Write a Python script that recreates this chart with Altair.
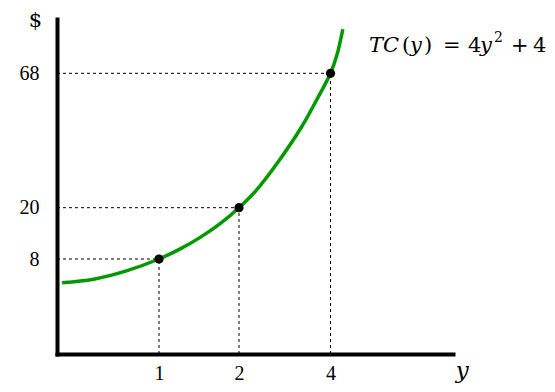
import altair as alt
import pandas as pd

# ---- data ----
qty = [1, 2, 4]
cost = [8, 20, 68]
curve_q = [0.05, 0.36, 0.68, 1.0, 1.26, 1.51, 1.76, 2.0, 2.35, 2.87, 3.37, 3.75, 4.0, 4.14, 4.27]
curve_c = [6.0, 6.3, 7.0, 8.0, 10.3, 13.0, 16.2, 20.0, 25.7, 36.7, 48.9, 60.1, 68.0, 74.5, 83.8]
x_ticks = [1, 2, 4]
y_ticks = [8, 20, 68]
formula_parts = ["TC", "(", "y", ")", "=", "4", "y", "2", "+", "4"]

pts = pd.DataFrame({"q": qty, "c": cost, "zero": [0] * len(qty)})
curve = pd.DataFrame({"q": curve_q, "c": curve_c})

F_FORM = "DejaVu Serif"
F_LAB = "Liberation Serif"
F_TIT = "DejaVu Serif"
GREEN = "#009900"

# schematic (piecewise linear) scales, as in the drawing
xscale = alt.Scale(domain=[0, 1, 2, 4, 6.68], range=[0, 102, 182, 273.5, 396], nice=False, zero=False)
yscale = alt.Scale(domain=[0, 8, 20, 68, 87.4], range=[335, 240, 188.7, 54.3, 0], nice=False, zero=False)

xaxis = alt.Axis(values=x_ticks, title="y", titleFont=F_TIT, titleFontStyle="italic",
                 titleFontSize=23, titleFontWeight="normal", titleColor="black",
                 titleX=404.7, titleY=23, titleAlign="center", titleBaseline="alphabetic",
                 titleAngle=0, labelFont=F_LAB, labelFontSize=20, labelColor="black",
                 labelPadding=9, labelAngle=0, ticks=False, tickSize=0,
                 domainColor="black", domainWidth=4, domainCap="square", grid=False)
yaxis = alt.Axis(values=y_ticks, title="$", titleFont=F_TIT, titleFontSize=21,
                 titleFontWeight="normal", titleColor="black", titleX=-22, titleY=7,
                 titleAlign="center", titleBaseline="alphabetic", titleAngle=0,
                 labelFont=F_LAB, labelFontSize=20, labelColor="black", labelPadding=18,
                 labelBaseline="middle", ticks=False, tickSize=0,
                 domainColor="black", domainWidth=4, domainCap="square", grid=False)

line = alt.Chart(curve).mark_line(color=GREEN, strokeWidth=3.5, interpolate="catmull-rom").encode(
    x=alt.X("q:Q", scale=xscale, axis=xaxis),
    y=alt.Y("c:Q", scale=yscale, axis=yaxis),
)

hrules = alt.Chart(pts).mark_rule(color="black", strokeWidth=1, strokeDash=[3, 3]).encode(
    x=alt.X("zero:Q", scale=xscale, axis=xaxis), x2="q:Q",
    y=alt.Y("c:Q", scale=yscale, axis=yaxis),
)
vrules = alt.Chart(pts).mark_rule(color="black", strokeWidth=1, strokeDash=[3, 3]).encode(
    x=alt.X("q:Q", scale=xscale, axis=xaxis),
    y=alt.Y("zero:Q", scale=yscale, axis=yaxis), y2="c:Q",
)

dots = alt.Chart(pts).mark_circle(color="black", size=85, opacity=1).encode(
    x=alt.X("q:Q", scale=xscale, axis=xaxis),
    y=alt.Y("c:Q", scale=yscale, axis=yaxis),
)

# formula layout: (x offset, y baseline, italic, size)
layout = [(312, 32.7, True, 21), (345, 32.7, False, 21), (353, 32.7, True, 21),
          (367, 32.7, False, 21), (386, 32.7, False, 21), (411, 32.7, False, 21),
          (423, 32.7, True, 21), (437, 22.7, False, 14), (454, 32.7, False, 21),
          (476, 32.7, False, 21)]

texts = []
for part, (px, py, ital, sz) in zip(formula_parts, layout):
    texts.append(
        alt.Chart(pd.DataFrame({"t": [part]})).mark_text(
            align="left", baseline="alphabetic", font=F_FORM, fontSize=sz,
            fontStyle="italic" if ital else "normal", color="black",
        ).encode(x=alt.value(px), y=alt.value(py), text="t:N")
    )

chart = alt.layer(hrules, vrules, line, dots, *texts).properties(
    width=396, height=335,
    autosize=alt.AutoSizeParams(type="none"),
    padding={"left": 49, "top": 11, "right": 94, "bottom": 30},
).configure_view(strokeWidth=0)

chart.save("out.html", embed_options={"renderer": "svg", "actions": False})
